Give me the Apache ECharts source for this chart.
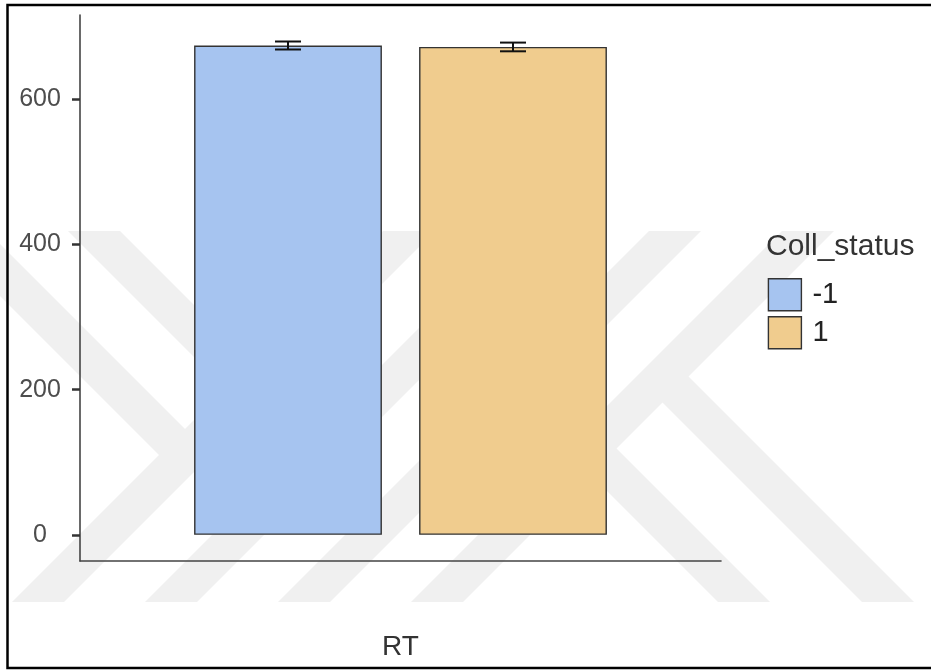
<!DOCTYPE html>
<html>
<head>
<meta charset="utf-8">
<script src="https://cdn.jsdelivr.net/npm/echarts@6/dist/echarts.min.js"></script>
<style>
html,body{margin:0;padding:0;background:#fff;}
#chart{width:931px;height:671px;}
</style>
</head>
<body>
<div id="chart"></div>
<script>
// ---- data ----
const categories = ['RT'];
const groups = ['-1', '1'];
const meanRT = [674, 672];
const seRT = [5.5, 6];
const yTicks = [0, 200, 400, 600];
const legendTitle = 'Coll_status';

// ---- styles ----
const groupColors = ['#A6C4F0', '#F0CC8E'];
const FONT = 'Liberation Sans, Arial, sans-serif';
const BAR_W = 0.293;   // fraction of band
const BAR_GAP = 0.198; // fraction of bar width

// watermark (background decoration) geometry
const WM_TOP = 231, WM_BOT = 602, WM_W = 52;
const slashEdges = [614, 747, 880, 1013];         // x+y of left edge
function slashBand(c) {
  return [[c - WM_TOP, WM_TOP], [c + WM_W - WM_TOP, WM_TOP],
          [c + WM_W - WM_BOT, WM_BOT], [c - WM_BOT, WM_BOT]];
}
function armFromTop(d, e) { // "\" band from top edge to line x+y=e
  return [[WM_TOP + d, WM_TOP], [WM_TOP + d + WM_W, WM_TOP],
          [(d + WM_W + e) / 2, (e - d - WM_W) / 2], [(d + e) / 2, (e - d) / 2]];
}
function legToBottom(d, e) { // "\" band from line x+y=e to bottom
  return [[(d + e) / 2, (e - d) / 2], [(d + WM_W + e) / 2, (e - d - WM_W) / 2],
          [WM_BOT + d + WM_W, WM_BOT], [WM_BOT + d, WM_BOT]];
}
const wmShapes = [
  ...slashEdges.map(slashBand),
  armFromTop(-296, slashEdges[0] + 26),
  armFromTop(-163, slashEdges[1] + 26),
  legToBottom(116, slashEdges[2] + 26),
  legToBottom(260, slashEdges[3] + 26)
];
const wmGraphics = wmShapes.map(pts => ({
  type: 'polygon', silent: true, z: -10,
  shape: { points: pts },
  style: { fill: '#F0F0F0' }
}));

const chart = echarts.init(document.getElementById('chart'));

const barSeries = groups.map((g, i) => ({
  type: 'bar',
  name: g,
  data: [meanRT[i]],
  barWidth: (BAR_W * 100) + '%',
  barGap: (BAR_GAP * 100) + '%',
  itemStyle: { color: groupColors[i], borderColor: '#333', borderWidth: 1.4 },
  emphasis: { disabled: true },
  z: 2
}));

const errData = groups.map((g, i) => [0, meanRT[i] - seRT[i], meanRT[i] + seRT[i], i]);

const errSeries = {
  type: 'custom',
  name: 'err',
  data: errData,
  encode: { x: 0, y: [1, 2] },
  z: 10,
  silent: true,
  renderItem: function (params, api) {
    const cx = api.coord([api.value(0), 0])[0];
    const bw = api.size([1, 0])[0];
    const barW = bw * BAR_W;
    const gap = barW * BAR_GAP;
    const off = (barW + gap) / 2;
    const gi = api.value(3);
    const x = cx + (gi === 0 ? -off : off);
    const yLo = api.coord([api.value(0), api.value(1)])[1];
    const yHi = api.coord([api.value(0), api.value(2)])[1];
    const cap = 13;
    const st = { stroke: '#111', lineWidth: 2, fill: null };
    return {
      type: 'group',
      children: [
        { type: 'line', shape: { x1: x, y1: yLo, x2: x, y2: yHi }, style: st },
        { type: 'line', shape: { x1: x - cap, y1: yLo, x2: x + cap, y2: yLo }, style: st },
        { type: 'line', shape: { x1: x - cap, y1: yHi, x2: x + cap, y2: yHi }, style: st }
      ]
    };
  }
};

chart.setOption({
  animation: false,
  backgroundColor: '#fff',
  textStyle: { fontFamily: FONT },
  grid: { left: 80, top: 15, width: 641, height: 546, containLabel: false },
  title: {
    text: legendTitle, left: 766, top: 232, padding: 0,
    textStyle: { fontSize: 30, fontWeight: 'normal', color: '#333', fontFamily: FONT }
  },
  legend: {
    data: groups,
    orient: 'vertical', left: 767.7, top: 278, padding: 0,
    itemWidth: 33, itemHeight: 32, itemGap: 4.7,
    icon: 'rect', selectedMode: false,
    itemStyle: { borderColor: '#333', borderWidth: 1.4 },
    textStyle: { fontSize: 29, color: '#222', fontFamily: FONT, padding: [4, 0, 0, 6] }
  },
  xAxis: {
    type: 'category',
    data: categories,
    axisLine: { onZero: false, lineStyle: { color: '#444', width: 1.6 } },
    axisTick: { alignWithLabel: true, length: 7, lineStyle: { color: '#333', width: 2.5 } },
    axisLabel: { fontSize: 28, color: '#333', margin: 86, verticalAlign: 'middle', fontFamily: FONT },
    splitLine: { show: false }
  },
  yAxis: {
    type: 'value',
    min: -36, max: 716,
    axisLine: { show: true, lineStyle: { color: '#444', width: 1.6 } },
    axisTick: { show: true, customValues: yTicks, length: 8, lineStyle: { color: '#333', width: 2.5 } },
    axisLabel: { customValues: yTicks, fontSize: 25, color: '#4D4D4D', align: 'center', margin: 40, fontFamily: FONT },
    splitLine: { show: false }
  },
  graphic: [
    ...wmGraphics,
    { type: 'rect', silent: true, z: 100,
      shape: { x: 7.5, y: 5, width: 1000, height: 663 },
      style: { fill: null, stroke: '#000', lineWidth: 2.5 } }
  ],
  series: [...barSeries, errSeries]
});
</script>
</body>
</html>
